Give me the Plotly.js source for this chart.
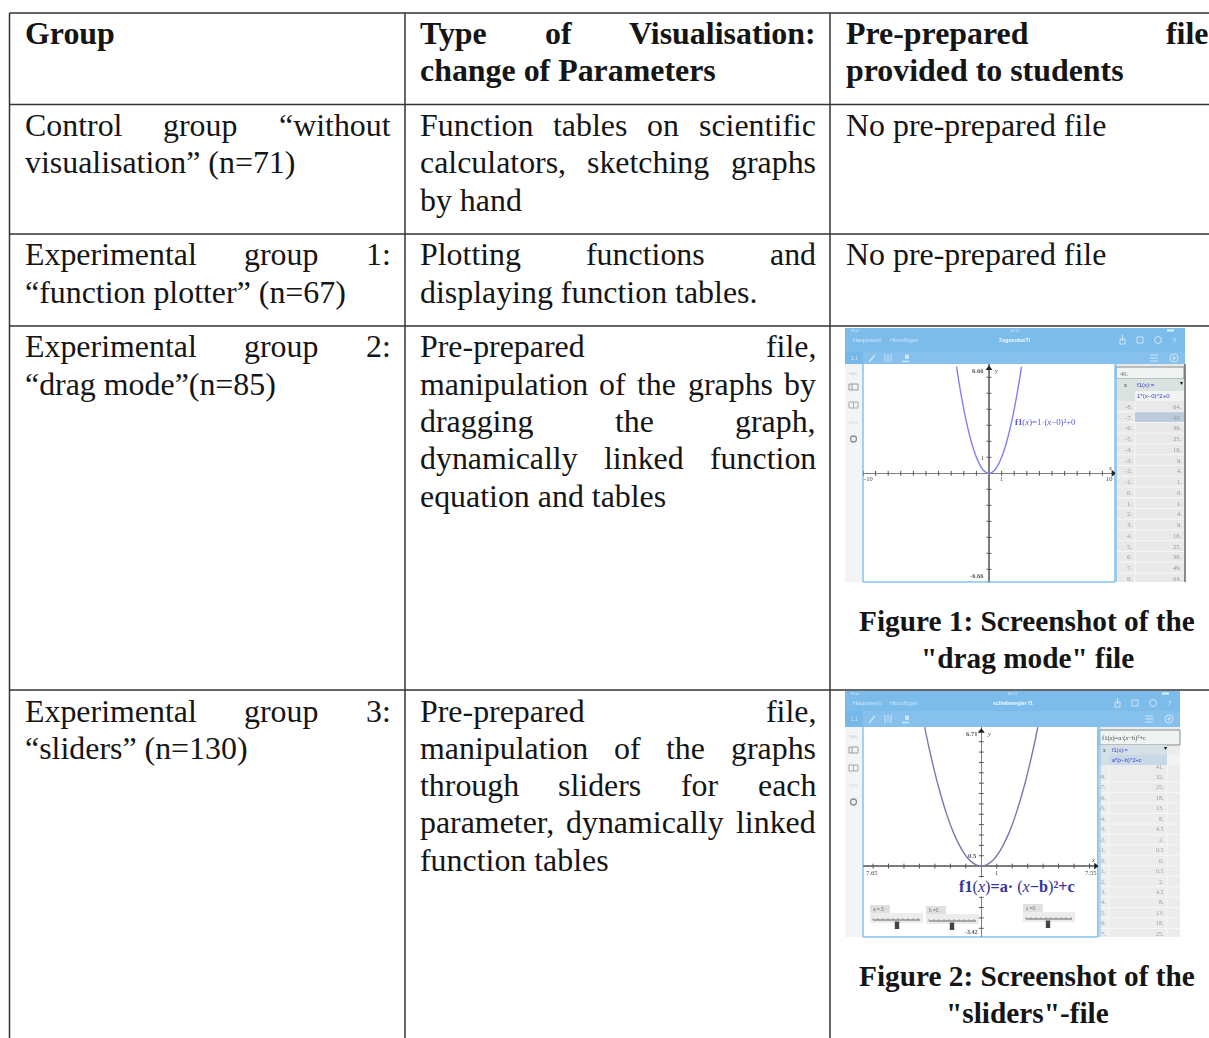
<!DOCTYPE html>
<html><head><meta charset="utf-8">
<script src="https://cdn.plot.ly/plotly-3.0.1.min.js"></script>
<style>html,body{margin:0;padding:0;background:#fff;overflow:hidden}</style>
</head><body><div id="chart" style="width:1209px;height:1038px"></div>
<script>
// ---------- table text ----------
const headerGroup = ["Group"];
const headerType = ["Type of Visualisation:", "change of Parameters"];
const headerFile = ["Pre-prepared file", "provided to students"];
const controlGroup = ["Control group “without", "visualisation” (n=71)"];
const controlType = ["Function tables on scientific", "calculators, sketching graphs", "by hand"];
const plotterGroup = ["Experimental group 1:", "“function plotter” (n=67)"];
const plotterType = ["Plotting functions and", "displaying function tables."];
const dragGroup = ["Experimental group 2:", "“drag mode”(n=85)"];
const dragType = ["Pre-prepared file,", "manipulation of the graphs by", "dragging the graph,", "dynamically linked function", "equation and tables"];
const sliderGroup = ["Experimental group 3:", "“sliders” (n=130)"];
const sliderType = ["Pre-prepared file,", "manipulation of the graphs", "through sliders for each", "parameter, dynamically linked", "function tables"];
const noFile = "No pre-prepared file";
const caption1 = ["Figure 1: Screenshot of the", "\"drag mode\" file"];
const caption2 = ["Figure 2: Screenshot of the", "\"sliders\"-file"];

// ---------- values ----------
const dragCurveX = [-2.58,-2.4,-2.2,-2,-1.8,-1.6,-1.4,-1.2,-1,-0.8,-0.6,-0.4,-0.2,0,0.2,0.4,0.6,0.8,1,1.2,1.4,1.6,1.8,2,2.2,2.4,2.58];
const dragCurveY = [6.66,5.76,4.84,4,3.24,2.56,1.96,1.44,1,0.64,0.36,0.16,0.04,0,0.04,0.16,0.36,0.64,1,1.44,1.96,2.56,3.24,4,4.84,5.76,6.66];
const dragTicksX = [-10,-9,-8,-7,-6,-5,-4,-3,-2,-1,1,2,3,4,5,6,7,8,9];
const dragTicksY = [-6,-5,-4,-3,-2,-1,1,2,3,4,5,6];
const dragTableX = ["-8.","-7.","-6.","-5.","-4.","-3.","-2.","-1.","0.","1.","2.","3.","4.","5.","6.","7.","8."];
const dragTableF = ["64.","49.","36.","25.","16.","9.","4.","1.","0.","1.","4.","9.","16.","25.","36.","49.","64."];
const sliderCurveX = [-3.66,-3.5,-3.25,-3,-2.75,-2.5,-2.25,-2,-1.75,-1.5,-1.25,-1,-0.75,-0.5,-0.25,0,0.25,0.5,0.75,1,1.25,1.5,1.75,2,2.25,2.5,2.75,3,3.25,3.5,3.66];
const sliderCurveY = [6.7,6.13,5.28,4.5,3.78,3.13,2.53,2,1.53,1.13,0.78,0.5,0.28,0.13,0.03,0,0.03,0.13,0.28,0.5,0.78,1.13,1.53,2,2.53,3.13,3.78,4.5,5.28,6.13,6.7];
const sliderTicksX = [-7,-6,-5,-4,-3,-2,-1,1,2,3,4,5,6,7];
const sliderTicksY = [-3,-2.5,-2,-1.5,-1,-0.5,0.5,1,1.5,2,2.5,3,3.5,4,4.5,5,5.5,6,6.5];
const sliderTableX = ["-8.","-7.","-6.","-5.","-4.","-3.","-2.","-1.","0.","1.","2.","3.","4.","5.","6.","7."];
const sliderTableF = ["32.","25.","18.","13.","8.","4.5","2.","0.5","0.","0.5","2.","4.5","8.","13.","18.","25."];
const sliderNames = ["a =.5","b =0.","c =0."];

// ---------- page geometry ----------
const W = 1209, H = 1038;
const SERIF = '"Liberation Serif", serif', SANS = '"Liberation Sans", sans-serif';
const FS = 31.9, INK = '#151515';
const ctx = document.createElement('canvas').getContext('2d');
const annotations = [], shapes = [];

function label(x, y, text, size, color, anchor, family, extra) {
  annotations.push(Object.assign({xref:'x', yref:'y', x, y, text, showarrow:false, borderpad:0,
    xanchor:anchor||'left', yanchor:'middle', align:anchor||'left',
    font:{family:family||SANS, size, color}}, extra||{}));
}
function rect(x0, y0, x1, y1, fill, line, lw) {
  shapes.push({type:'rect', xref:'x', yref:'y', x0, y0, x1, y1, layer:'below',
    fillcolor:fill||'rgba(0,0,0,0)', line:{width:line?(lw||1):0, color:line||'rgba(0,0,0,0)'}});
}
function rule(x0, y0, x1, y1, color, lw) {
  shapes.push({type:'line', xref:'x', yref:'y', x0, y0, x1, y1, layer:'below', line:{color, width:lw}});
}
function ring(cx, cy, r, color, lw) {
  shapes.push({type:'circle', xref:'x', yref:'y', layer:'below', x0:cx-r, x1:cx+r, y0:cy-r, y1:cy+r,
    line:{color, width:lw}});
}
// A justified line is laid out word by word between the cell's two edges.
function textLine(str, left, right, y0, bold, justify) {
  const y = y0 - 0.3;
  const weight = bold ? 'bold ' : '';
  const t = s => bold ? '<b>'+s+'</b>' : s;
  if (!justify) { label(left, y, t(str), FS, INK, 'left', SERIF); return; }
  ctx.font = weight + FS + 'px "Liberation Serif"';
  const words = str.split(' ');
  const widths = words.map(w => ctx.measureText(w).width);
  const gap = (right - left - widths.reduce((a,b)=>a+b,0)) / (words.length - 1);
  let x = left;
  words.forEach((w,i) => { label(x, y, t(w), FS, INK, 'left', SERIF); x += widths[i] + gap; });
}
function block(lines, left, right, ys, bold, justified) {
  lines.forEach((s,i) => textLine(s, left, right, ys[i], bold, justified[i]));
}

// ---------- the table ----------
const C1=[23.5,390], C2=[418.5,815], C3=[844.5,1207];
block(headerGroup, C1[0], C1[1], [34], true, [false]);
block(headerType, C2[0], C2[1], [34,71], true, [true,false]);
block(headerFile, C3[0], C3[1], [34,71], true, [true,false]);
block(controlGroup, C1[0], C1[1], [126,163], false, [true,false]);
block(controlType, C2[0], C2[1], [126,163,200.6], false, [true,true,false]);
block([noFile], C3[0], C3[1], [126], false, [false]);
block(plotterGroup, C1[0], C1[1], [255,292.6], false, [true,false]);
block(plotterType, C2[0], C2[1], [255,292.6], false, [true,false]);
block([noFile], C3[0], C3[1], [255], false, [false]);
block(dragGroup, C1[0], C1[1], [347,385], false, [true,false]);
block(dragType, C2[0], C2[1], [347,385,422,459,497], false, [true,true,true,true,false]);
block(sliderGroup, C1[0], C1[1], [712,749], false, [true,false]);
block(sliderType, C2[0], C2[1], [712,749,786,823,861], false, [true,true,true,true,false]);
[[caption1,[621,658]],[caption2,[976,1013]]].forEach(([c,ys]) =>
  c.forEach((s,i) => label(1027, ys[i]-0.5, '<b>'+s+'</b>', 29.3, INK, 'center', SERIF)));

const RULE='#333', RW=1.5;
[13,104.5,234,326,690].forEach(y => rule(9.5,y,W,y,RULE,RW));
[9.5,405,830].forEach(x => rule(x,13,x,H,RULE,RW));

// ---------- shared screenshot chrome ----------
function chrome(left, right, top, barEnd, toolEnd, bottom, plotLeft, plotRight, name, clock) {
  const BLUE='#7cbcea', BLUE2='#85c1ec', WHITE='#cfe6f7';
  rect(left, top, right, barEnd, BLUE);
  rect(left, barEnd, right, toolEnd, BLUE2);
  rect(left, toolEnd, plotLeft, bottom, '#f4f4f4');
  rect(left, barEnd, left+18, toolEnd, '#76b9e9');
  const midBar = top + 12, midTool = (barEnd+toolEnd)/2;
  // status strip
  label((left+right)/2, top+2.5, clock, 3.8, WHITE, 'center');
  label(left+5, top+2.5, 'iPad', 3.8, WHITE);
  rect(right-18, top+1.5, right-11, top+3.5, '#e6f2fb');
  // header and toolbar text
  label(left+7, midBar, 'Hauptmenü', 5.5, WHITE);
  label(left+44, midBar, 'Hinzufügen', 5.5, WHITE);
  label((left+right)/2, midBar, '<b>'+name+'</b>', 5.2, '#f2f9fe', 'center');
  label(left+9, midTool, '1.1', 5, WHITE, 'center');
  // header icons on the right
  rect(right-65, midBar-1, right-60, midBar+4, null, WHITE, 1);
  rule(right-62.5, midBar-5, right-62.5, midBar+1, WHITE, 1);
  rect(right-48, midBar-3, right-42, midBar+3, null, WHITE, 1);
  ring(right-27, midBar, 3.5, WHITE, 1);
  label(right-11, midBar, '?', 8, WHITE, 'center');
  // toolbar icons
  rule(left+24, midTool+4, left+30, midTool-3, WHITE, 1.5);
  [left+40,left+43,left+46].forEach(x => rule(x, midTool-4, x, midTool+4, WHITE, 1));
  rule(left+57, midTool+3.5, left+64, midTool+3.5, WHITE, 1.5);
  rect(left+60, midTool-3.5, left+64, midTool+1, WHITE);
  [-3,0,3].forEach(d => rule(right-35, midTool+d, right-27, midTool+d, WHITE, 1));
  ring(right-11, midTool, 4, WHITE, 1);
  rule(right-13, midTool, right-9, midTool, WHITE, 1);
  rule(right-11, midTool-2, right-11, midTool+2, WHITE, 1);
  // side icons
  label(left+8, toolEnd+9, 'RAD', 4, '#c8c8c8', 'center');
  rect(left+4, toolEnd+20, left+13, toolEnd+26, null, '#9a9a9a', 1);
  rule(left+7, toolEnd+20, left+7, toolEnd+26, '#9a9a9a', 1);
  rect(left+4, toolEnd+38, left+13, toolEnd+44, null, '#a8a8a8', 1);
  rule(left+8.5, toolEnd+38, left+8.5, toolEnd+44, '#a8a8a8', 1);
  label(left+8, toolEnd+58, 'OTG', 4, '#cfcfcf', 'center');
  ring(left+8.5, toolEnd+75, 3, '#8f8f8f', 1.3);
  rule(plotLeft,toolEnd,plotLeft,bottom,'#84c3ee',1.5);
  rule(plotRight,toolEnd,plotRight,bottom,'#84c3ee',1.5);
  rule(plotLeft,bottom,plotRight,bottom,'#84c3ee',1.5);
}

// ---------- Figure 1 screenshot ----------
chrome(845,1185,328,352,364,582,863,1115,'ZugmodusTI','14:15');
rect(1116,364,1185,582,'#e9e9e9');
rect(1116,367,1184,379,'#eff3f2','#8a8a8a',1);
label(1119,373,'49.',6.5,'#777','left',SERIF);
rect(1116,379,1184,401,'#dbe3e1');
rect(1135,391,1184,401,'#f0f4f3');
label(1125,385,'x',6,'#444','center',SERIF);
label(1136,385,'f1(x):=',6,'#3b3bd0');
label(1136,396,'1*(x−0)^2+0',6,'#3b3bd0');
label(1181,383,'▾',6,'#111','center');
rule(1135,401,1135,582,'#f5f5f5',1);
rect(1135,411,1184,422,'#bccbdc');
dragTableX.forEach((v,i) => {
  const y = 406.3 + i*10.75;
  if (i<16) rule(1116,y+5.4,1184,y+5.4,'#f6f6f6',1);
  label(1133,y,v,6.5,'#9a9a9a','right',SERIF);
  label(1183,y,dragTableF[i],6.5,'#9a9a9a','right',SERIF);
});
rule(1185,364,1185,582,'#666',1.5);
rule(1116,364,1116,582,'#84c3ee',1.5);
const sub2={xref:'x2',yref:'y2'};
label(-10,-0.3,'-10',6.5,'#444','left',SERIF,sub2);
label(1,-0.3,'1',6.5,'#444','center',SERIF,sub2);
label(9.95,-0.3,'10',6.5,'#444','right',SERIF,sub2);
label(-0.3,1,'1',6.5,'#444','right',SERIF,sub2);
label(-0.3,6.4,'<b>6.66</b>',6.5,'#555','right',SERIF,sub2);
label(-0.3,-6.4,'<b>-6.66</b>',6.5,'#555','right',SERIF,sub2);
label(0.35,6.4,'<i>y</i>',6.5,'#444','left',SERIF,sub2);
label(9.6,0.35,'<i>x</i>',6.5,'#444','center',SERIF,sub2);
label(1.95,3.2,'<b>f1</b>(<i>x</i>)=1·(<i>x</i>−0)²+0',8.8,'#5555e6','left',SERIF,sub2);

// ---------- Figure 2 screenshot ----------
chrome(845,1180,691,711,727,937,863,1098,'schieberegler f1','09:42');
rect(1098,727,1180,937,'#ececec');
rect(1099,730,1180,745,'#eff3f2','#8a8a8a',1);
label(1101,738,'f1(<i>x</i>)=a·(<i>x</i>−b)²+c',6.5,'#444','left',SERIF);
rect(1098,745,1167,765,'#d5e0e6');
rect(1109,755,1167,765,'#c8d8e6');
rect(1167,755,1180,765,'#f0f4f3');
label(1104,750,'x',5.5,'#444','center',SERIF);
label(1111,750,'f1(x):=',5.5,'#3b3bd0');
label(1111,760,'a*(x−b)^2+c',5.5,'#3b3bd0');
label(1165,748,'▾',6,'#111','center');
rule(1109,765,1109,937,'#f6f6f6',1);
rule(1167,765,1167,937,'#f6f6f6',1);
label(1165,767,'41.',6,'#9a9a9a','right',SERIF);
sliderTableX.forEach((v,i) => {
  const y = 777 + i*10.45;
  rule(1098,y+5.2,1180,y+5.2,'#f7f7f7',1);
  label(1107,y,v,6,'#9a9a9a','right',SERIF);
  label(1165,y,sliderTableF[i],6,'#9a9a9a','right',SERIF);
});
rule(1098,727,1098,937,'#84c3ee',1.5);
rule(1100,727,1100,937,'#84c3ee',1);
const sub3={xref:'x3',yref:'y3'};
label(-7.55,-0.3,'7.65',6.5,'#444','left',SERIF,sub3);
label(1,-0.3,'1',6.5,'#444','center',SERIF,sub3);
label(7.5,-0.3,'7.55',6.5,'#444','right',SERIF,sub3);
label(-0.2,6.4,'<b>6.71</b>',6.5,'#555','right',SERIF,sub3);
label(-0.2,0.5,'<b>0.5</b>',6.5,'#555','right',SERIF,sub3);
label(-0.15,-3.2,'<b>-3.42</b>',6,'#555','right',SERIF,sub3);
label(0.3,6.4,'<i>y</i>',6.5,'#444','left',SERIF,sub3);
label(7.2,0.3,'<i>x</i>',6.5,'#444','center',SERIF,sub3);
label(958,887,'<b>f1</b>(<i>x</i>)<b>=a·</b> (<i>x</i><b>−b</b>)<b>²+c</b>',16.2,'#33339a','left',SERIF,{bgcolor:'#ffffff'});
const sliderBoxes = [[870,923,905,897],[926,979,906,952],[1023,1075,904,1048]];
sliderBoxes.forEach(([l,r,t,knob],k) => {
  rect(l,t,l+20,t+8,'#e0e0e0');
  label(l+2,t+4,sliderNames[k],4.8,'#777');
  rect(l,t+8,r,t+18,'#ececec');
  rule(l+3,t+15,r-3,t+15,'#444',0.8);
  for (let x=l+3; x<=r-3; x+=5) rule(x,t+13,x,t+15,'#777',0.6);
  rect(knob-2.2,t+16.5,knob+2.2,t+24,'#444');
});

// ---------- marks drawn through the sub-plots ----------
const axisLine = '#7d7d7d';
const traces = [
  {x:[0,W], y:[0,H], xaxis:'x', yaxis:'y', mode:'markers', marker:{opacity:0}, hoverinfo:'skip'},
  {x:dragCurveX, y:dragCurveY, xaxis:'x2', yaxis:'y2', mode:'lines', line:{color:'#8080f0',width:1.4,shape:'spline'}, hoverinfo:'skip'},
  {x:dragTicksX, y:dragTicksX.map(()=>0), xaxis:'x2', yaxis:'y2', mode:'markers', marker:{symbol:'line-ns',size:3.5,line:{width:1,color:'#555'}}, hoverinfo:'skip'},
  {x:dragTicksY.map(()=>0), y:dragTicksY, xaxis:'x2', yaxis:'y2', mode:'markers', marker:{symbol:'line-ew',size:3.5,line:{width:1,color:'#555'}}, hoverinfo:'skip'},
  {x:[0], y:[6.55], xaxis:'x2', yaxis:'y2', mode:'markers', marker:{symbol:'triangle-up',size:6,color:'#222'}, hoverinfo:'skip'},
  {x:[9.85], y:[0], xaxis:'x2', yaxis:'y2', mode:'markers', marker:{symbol:'triangle-right',size:6,color:'#222'}, hoverinfo:'skip'},
  {x:sliderCurveX, y:sliderCurveY, xaxis:'x3', yaxis:'y3', mode:'lines', line:{color:'#7f76ae',width:1.4,shape:'spline'}, hoverinfo:'skip'},
  {x:sliderTicksX, y:sliderTicksX.map(()=>0), xaxis:'x3', yaxis:'y3', mode:'markers', marker:{symbol:'line-ns',size:3.5,line:{width:1,color:'#555'}}, hoverinfo:'skip'},
  {x:sliderTicksY.map(()=>0), y:sliderTicksY, xaxis:'x3', yaxis:'y3', mode:'markers', marker:{symbol:'line-ew',size:3.5,line:{width:1,color:'#555'}}, hoverinfo:'skip'},
  {x:[0], y:[6.5], xaxis:'x3', yaxis:'y3', mode:'markers', marker:{symbol:'triangle-up',size:6,color:'#222'}, hoverinfo:'skip'},
  {x:[7.4], y:[0], xaxis:'x3', yaxis:'y3', mode:'markers', marker:{symbol:'triangle-right',size:6,color:'#222'}, hoverinfo:'skip'}
];

const hidden = {visible:false, fixedrange:true};
const dx = (a,b) => [a/W, b/W], dy = (top,bot) => [1-bot/H, 1-top/H];
const zero = {showgrid:false, showticklabels:false, ticks:'', showline:false, zeroline:true,
  zerolinecolor:axisLine, zerolinewidth:1.5, fixedrange:true};
const layout = {
  width:W, height:H, margin:{l:0,r:0,t:0,b:0}, showlegend:false,
  paper_bgcolor:'#fff', plot_bgcolor:'rgba(0,0,0,0)', hovermode:false,
  xaxis:Object.assign({range:[0,W], domain:[0,1]},hidden),
  yaxis:Object.assign({range:[H,0], domain:[0,1]},hidden),
  xaxis2:Object.assign({range:[-10,10], domain:dx(863,1115), anchor:'y2'},zero),
  yaxis2:Object.assign({range:[-6.77,6.81], domain:dy(364.3,581.7), anchor:'x2'},zero),
  xaxis3:Object.assign({range:[-7.65,7.55], domain:dx(863,1098), anchor:'y3'},zero),
  yaxis3:Object.assign({range:[-3.42,6.71], domain:dy(727,937), anchor:'x3'},zero),
  shapes, annotations
};
Plotly.newPlot('chart', traces, layout, {displayModeBar:false, staticPlot:true}).then(gd => {
  // the screenshots are soft in the reference: soften only their small text
  document.querySelectorAll('#chart g.annotation').forEach(g => {
    const t = g.querySelector('text');
    if (t && parseFloat(t.style.fontSize) < 12) g.style.filter = 'blur(0.35px)';
  });
});
</script></body></html>
